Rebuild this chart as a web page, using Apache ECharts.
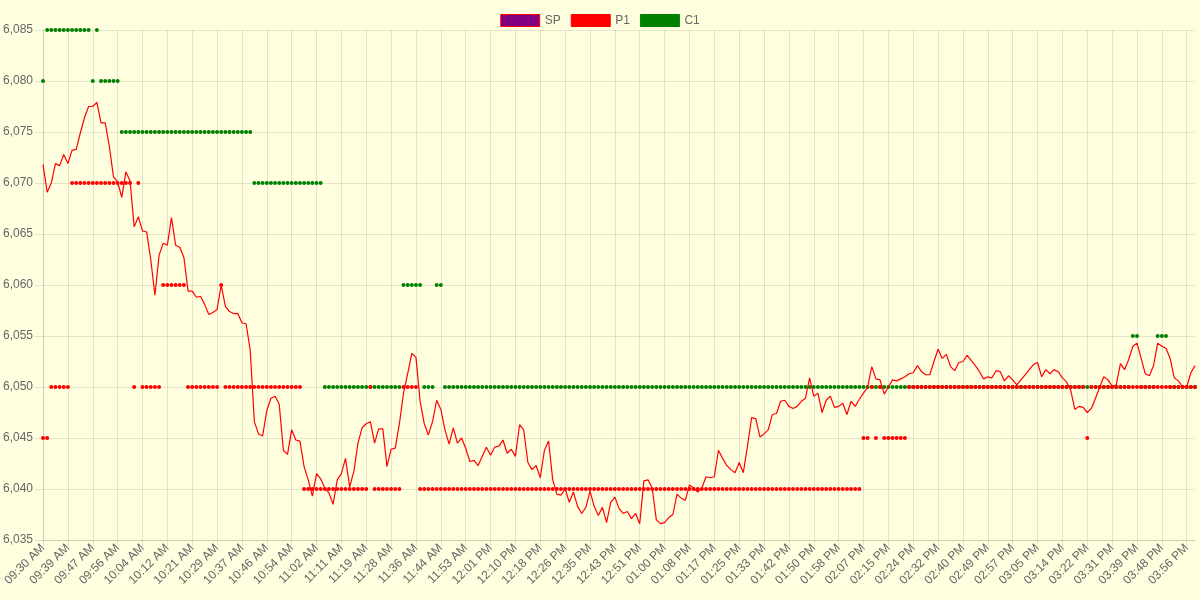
<!DOCTYPE html>
<html>
<head>
<meta charset="utf-8">
<script src="https://cdn.jsdelivr.net/npm/echarts@6/dist/echarts.min.js"></script>
<style>
  html, body { margin: 0; padding: 0; background: #ffffe0; }
  #chart { width: 1200px; height: 600px; }
</style>
</head>
<body>
<div id="chart"></div>
<script>
// tick labels shown on the x axis (every 6th point)
var tickLabels = [
  '09:30 AM', '09:39 AM', '09:47 AM', '09:56 AM', '10:04 AM', '10:12 AM', '10:21 AM', '10:29 AM',
  '10:37 AM', '10:46 AM', '10:54 AM', '11:02 AM', '11:11 AM', '11:19 AM', '11:28 AM', '11:36 AM',
  '11:44 AM', '11:53 AM', '12:01 PM', '12:10 PM', '12:18 PM', '12:26 PM', '12:35 PM', '12:43 PM',
  '12:51 PM', '01:00 PM', '01:08 PM', '01:17 PM', '01:25 PM', '01:33 PM', '01:42 PM', '01:50 PM',
  '01:58 PM', '02:07 PM', '02:15 PM', '02:24 PM', '02:32 PM', '02:40 PM', '02:49 PM', '02:57 PM',
  '03:05 PM', '03:14 PM', '03:22 PM', '03:31 PM', '03:39 PM', '03:48 PM', '03:56 PM'
];

// SP (drawn as the red line)
var spValues = [
  6071.8, 6069.1, 6070.0, 6071.9, 6071.7, 6072.8, 6071.9, 6073.2, 6073.3, 6074.9,
  6076.4, 6077.5, 6077.5, 6077.9, 6075.9, 6075.9, 6073.6, 6070.6, 6070.1, 6068.6,
  6071.1, 6070.2, 6065.7, 6066.7, 6065.3, 6065.2, 6062.5, 6059.0, 6062.9, 6064.1,
  6063.9, 6066.6, 6063.9, 6063.7, 6062.7, 6059.4, 6059.4, 6058.8, 6058.9, 6058.1,
  6057.1, 6057.3, 6057.6, 6060.0, 6057.9, 6057.4, 6057.2, 6057.2, 6056.3, 6056.2,
  6053.6, 6046.6, 6045.4, 6045.2, 6047.7, 6048.9, 6049.1, 6048.3, 6043.8, 6043.4,
  6045.8, 6044.8, 6044.7, 6042.2, 6040.9, 6039.3, 6041.5, 6041.0, 6040.1, 6039.6,
  6038.5, 6040.9, 6041.5, 6043.0, 6040.2, 6041.7, 6044.5, 6046.0, 6046.4, 6046.6,
  6044.5, 6045.9, 6045.9, 6042.2, 6043.9, 6044.0, 6046.4, 6049.4, 6051.3, 6053.3,
  6052.9, 6048.6, 6046.4, 6045.3, 6046.6, 6048.7, 6047.8, 6045.8, 6044.4, 6046.0,
  6044.5, 6045.0, 6044.0, 6042.7, 6042.8, 6042.3, 6043.2, 6044.1, 6043.3, 6044.1,
  6044.2, 6044.8, 6043.5, 6043.9, 6043.2, 6046.3, 6045.8, 6042.6, 6041.9, 6042.3,
  6041.1, 6043.8, 6044.7, 6040.9, 6039.5, 6039.4, 6040.0, 6038.7, 6039.7, 6038.3,
  6037.6, 6038.2, 6039.8, 6038.3, 6037.4, 6038.2, 6036.7, 6038.7, 6039.2, 6038.1,
  6037.6, 6037.8, 6037.1, 6037.6, 6036.6, 6040.8, 6040.9, 6040.1, 6037.0, 6036.6,
  6036.7, 6037.2, 6037.5, 6039.5, 6039.1, 6038.9, 6040.4, 6040.1, 6039.7, 6040.1,
  6041.2, 6041.1, 6041.2, 6043.8, 6043.0, 6042.3, 6041.9, 6041.6, 6042.6, 6041.6,
  6044.2, 6047.0, 6046.9, 6045.1, 6045.4, 6045.8, 6047.3, 6047.4, 6048.6, 6048.7,
  6048.1, 6047.9, 6048.1, 6048.6, 6048.9, 6050.9, 6049.1, 6049.4, 6047.5, 6048.7,
  6049.1, 6048.0, 6048.1, 6048.4, 6047.3, 6048.6, 6048.1, 6048.8, 6049.4, 6050.0,
  6052.0, 6050.8, 6050.7, 6049.3, 6050.0, 6050.7, 6050.6, 6050.8, 6051.0, 6051.3,
  6051.4, 6052.1, 6051.5, 6051.2, 6051.2, 6052.5, 6053.7, 6052.8, 6053.2, 6052.0,
  6051.6, 6052.4, 6052.5, 6053.1, 6052.6, 6052.1, 6051.5, 6050.8, 6051.0, 6050.9,
  6051.6, 6051.5, 6050.6, 6051.1, 6050.7, 6050.2, 6050.7, 6051.2, 6051.7, 6052.2,
  6052.4, 6051.0, 6051.7, 6051.3, 6051.7, 6051.5, 6050.9, 6050.5, 6049.7, 6047.8,
  6048.1, 6048.0, 6047.5, 6047.9, 6048.9, 6050.0, 6051.0, 6050.7, 6050.1, 6050.2,
  6052.3, 6051.7, 6052.7, 6054.0, 6054.3, 6052.8, 6051.3, 6051.1, 6052.1, 6054.3,
  6054.0, 6053.8, 6052.8, 6050.9, 6050.6, 6050.0, 6050.0, 6051.4, 6052.1
];

// P1 (red dots)
var p1Values = [
  6045, 6045, 6050, 6050, 6050, 6050, 6050, 6070, 6070, 6070,
  6070, 6070, 6070, 6070, 6070, 6070, 6070, 6070, 6070, 6070,
  6070, 6070, 6050, 6070, 6050, 6050, 6050, 6050, 6050, 6060,
  6060, 6060, 6060, 6060, 6060, 6050, 6050, 6050, 6050, 6050,
  6050, 6050, 6050, 6060, 6050, 6050, 6050, 6050, 6050, 6050,
  6050, 6050, 6050, 6050, 6050, 6050, 6050, 6050, 6050, 6050,
  6050, 6050, 6050, 6040, 6040, 6040, 6040, 6040, 6040, 6040,
  6040, 6040, 6040, 6040, 6040, 6040, 6040, 6040, 6040, 6050,
  6040, 6040, 6040, 6040, 6040, 6040, 6040, 6050, 6050, 6050,
  6050, 6040, 6040, 6040, 6040, 6040, 6040, 6040, 6040, 6040,
  6040, 6040, 6040, 6040, 6040, 6040, 6040, 6040, 6040, 6040,
  6040, 6040, 6040, 6040, 6040, 6040, 6040, 6040, 6040, 6040,
  6040, 6040, 6040, 6040, 6040, 6040, 6040, 6040, 6040, 6040,
  6040, 6040, 6040, 6040, 6040, 6040, 6040, 6040, 6040, 6040,
  6040, 6040, 6040, 6040, 6040, 6040, 6040, 6040, 6040, 6040,
  6040, 6040, 6040, 6040, 6040, 6040, 6040, 6040, 6040, 6040,
  6040, 6040, 6040, 6040, 6040, 6040, 6040, 6040, 6040, 6040,
  6040, 6040, 6040, 6040, 6040, 6040, 6040, 6040, 6040, 6040,
  6040, 6040, 6040, 6040, 6040, 6040, 6040, 6040, 6040, 6040,
  6040, 6040, 6040, 6040, 6040, 6040, 6040, 6040, 6045, 6045,
  6050, 6045, 6050, 6045, 6045, 6045, 6045, 6045, 6045, 6050,
  6050, 6050, 6050, 6050, 6050, 6050, 6050, 6050, 6050, 6050,
  6050, 6050, 6050, 6050, 6050, 6050, 6050, 6050, 6050, 6050,
  6050, 6050, 6050, 6050, 6050, 6050, 6050, 6050, 6050, 6050,
  6050, 6050, 6050, 6050, 6050, 6050, 6050, 6050, 6050, 6050,
  6050, 6050, 6045, 6050, 6050, 6050, 6050, 6050, 6050, 6050,
  6050, 6050, 6050, 6050, 6050, 6050, 6050, 6050, 6050, 6050,
  6050, 6050, 6050, 6050, 6050, 6050, 6050, 6050, 6050
];

// C1 (green dots)
var c1Values = [
  6080, 6085, 6085, 6085, 6085, 6085, 6085, 6085, 6085, 6085,
  6085, 6085, 6080, 6085, 6080, 6080, 6080, 6080, 6080, 6075,
  6075, 6075, 6075, 6075, 6075, 6075, 6075, 6075, 6075, 6075,
  6075, 6075, 6075, 6075, 6075, 6075, 6075, 6075, 6075, 6075,
  6075, 6075, 6075, 6075, 6075, 6075, 6075, 6075, 6075, 6075,
  6075, 6070, 6070, 6070, 6070, 6070, 6070, 6070, 6070, 6070,
  6070, 6070, 6070, 6070, 6070, 6070, 6070, 6070, 6050, 6050,
  6050, 6050, 6050, 6050, 6050, 6050, 6050, 6050, 6050, 6050,
  6050, 6050, 6050, 6050, 6050, 6050, 6050, 6060, 6060, 6060,
  6060, 6060, 6050, 6050, 6050, 6060, 6060, 6050, 6050, 6050,
  6050, 6050, 6050, 6050, 6050, 6050, 6050, 6050, 6050, 6050,
  6050, 6050, 6050, 6050, 6050, 6050, 6050, 6050, 6050, 6050,
  6050, 6050, 6050, 6050, 6050, 6050, 6050, 6050, 6050, 6050,
  6050, 6050, 6050, 6050, 6050, 6050, 6050, 6050, 6050, 6050,
  6050, 6050, 6050, 6050, 6050, 6050, 6050, 6050, 6050, 6050,
  6050, 6050, 6050, 6050, 6050, 6050, 6050, 6050, 6050, 6050,
  6050, 6050, 6050, 6050, 6050, 6050, 6050, 6050, 6050, 6050,
  6050, 6050, 6050, 6050, 6050, 6050, 6050, 6050, 6050, 6050,
  6050, 6050, 6050, 6050, 6050, 6050, 6050, 6050, 6050, 6050,
  6050, 6050, 6050, 6050, 6050, 6050, 6050, 6050, 6050, 6050,
  6050, 6050, 6050, 6050, 6050, 6050, 6050, 6050, 6050, 6050,
  6050, 6050, 6050, 6050, 6050, 6050, 6050, 6050, 6050, 6050,
  6050, 6050, 6050, 6050, 6050, 6050, 6050, 6050, 6050, 6050,
  6050, 6050, 6050, 6050, 6050, 6050, 6050, 6050, 6050, 6050,
  6050, 6050, 6050, 6050, 6050, 6050, 6050, 6050, 6050, 6050,
  6050, 6050, 6050, 6050, 6050, 6050, 6050, 6050, 6050, 6050,
  6050, 6050, 6050, 6055, 6055, 6050, 6050, 6050, 6050, 6055,
  6055, 6055, 6050, 6050, 6050, 6050, 6050, 6050, 6050
];

// one category per point; tick labels every 6th, times in between are filled in
function toMin(s) {
  var h = parseInt(s.substr(0, 2), 10), m = parseInt(s.substr(3, 2), 10);
  if (s.indexOf('PM') > 0 && h < 12) h += 12;
  return h * 60 + m;
}
function fmt(t) {
  t = Math.round(t);
  var h = Math.floor(t / 60), m = t % 60;
  var ap = h >= 12 ? 'PM' : 'AM';
  var h12 = h % 12 || 12;
  return (h12 < 10 ? '0' : '') + h12 + ':' + (m < 10 ? '0' : '') + m + ' ' + ap;
}
var categories = [];
for (var i = 0; i < spValues.length; i++) {
  var k = Math.floor(i / 6), r = i % 6;
  if (r === 0 && k < tickLabels.length) {
    categories.push(tickLabels[k]);
  } else {
    var kk = Math.min(k, tickLabels.length - 2);
    var a = toMin(tickLabels[kk]), b = toMin(tickLabels[kk + 1]);
    categories.push(fmt(a + (i - kk * 6) * (b - a) / 6));
  }
}

var chart = echarts.init(document.getElementById('chart'));
var gridColor = 'rgba(0,0,0,0.1)';
var font = "'Liberation Sans', Arial, Helvetica, sans-serif";

var option = {
  backgroundColor: '#ffffe0',
  animation: false,
  textStyle: { fontFamily: font },
  legend: {
    top: 9,
    left: 'center',
    itemWidth: 39,
    itemHeight: 12,
    itemGap: 10,
    textStyle: { color: '#666', fontSize: 12, fontFamily: font },
    data: [
      { name: 'SP', icon: 'rect', itemStyle: { color: 'purple', borderColor: 'red', borderWidth: 1 } },
      { name: 'P1', icon: 'rect', itemStyle: { color: 'red', borderColor: 'red', borderWidth: 1 } },
      { name: 'C1', icon: 'rect', itemStyle: { color: 'green', borderColor: 'green', borderWidth: 1 } }
    ]
  },
  grid: {
    left: 42,
    right: 5,
    top: 30,
    bottom: 60
  },
  xAxis: {
    type: 'category',
    data: categories,
    boundaryGap: false,
    axisLine: { lineStyle: { color: gridColor } },
    axisTick: { show: true, interval: 5, length: 6, lineStyle: { color: gridColor } },
    axisLabel: {
      interval: 5,
      rotate: 45,
      color: '#666',
      fontSize: 12,
      fontFamily: font,
      margin: 6
    },
    splitLine: { show: true, interval: 5, lineStyle: { color: gridColor } }
  },
  yAxis: {
    type: 'value',
    min: 6035,
    max: 6085,
    interval: 5,
    axisLine: { show: true, lineStyle: { color: gridColor } },
    axisTick: { show: true, length: 8, lineStyle: { color: gridColor } },
    axisLabel: {
      color: '#666',
      fontSize: 12,
      fontFamily: font,
      margin: 10,
      formatter: function (v) { return v.toLocaleString('en-US'); }
    },
    splitLine: { show: true, lineStyle: { color: gridColor } }
  },
  series: [
    {
      name: 'SP',
      type: 'line',
      data: spValues,
      showSymbol: false,
      z: 4,
      lineStyle: { color: 'red', width: 1.2 },
      itemStyle: { color: 'purple', borderColor: 'red', borderWidth: 1 }
    },
    {
      name: 'P1',
      type: 'line',
      data: p1Values,
      z: 3,
      symbol: 'circle',
      symbolSize: 4,
      showAllSymbol: true,
      lineStyle: { width: 0, opacity: 0 },
      itemStyle: { color: 'red' }
    },
    {
      name: 'C1',
      type: 'line',
      data: c1Values,
      z: 2,
      symbol: 'circle',
      symbolSize: 4,
      showAllSymbol: true,
      lineStyle: { width: 0, opacity: 0 },
      itemStyle: { color: 'green' }
    }
  ]
};
chart.setOption(option);
</script>
</body>
</html>
